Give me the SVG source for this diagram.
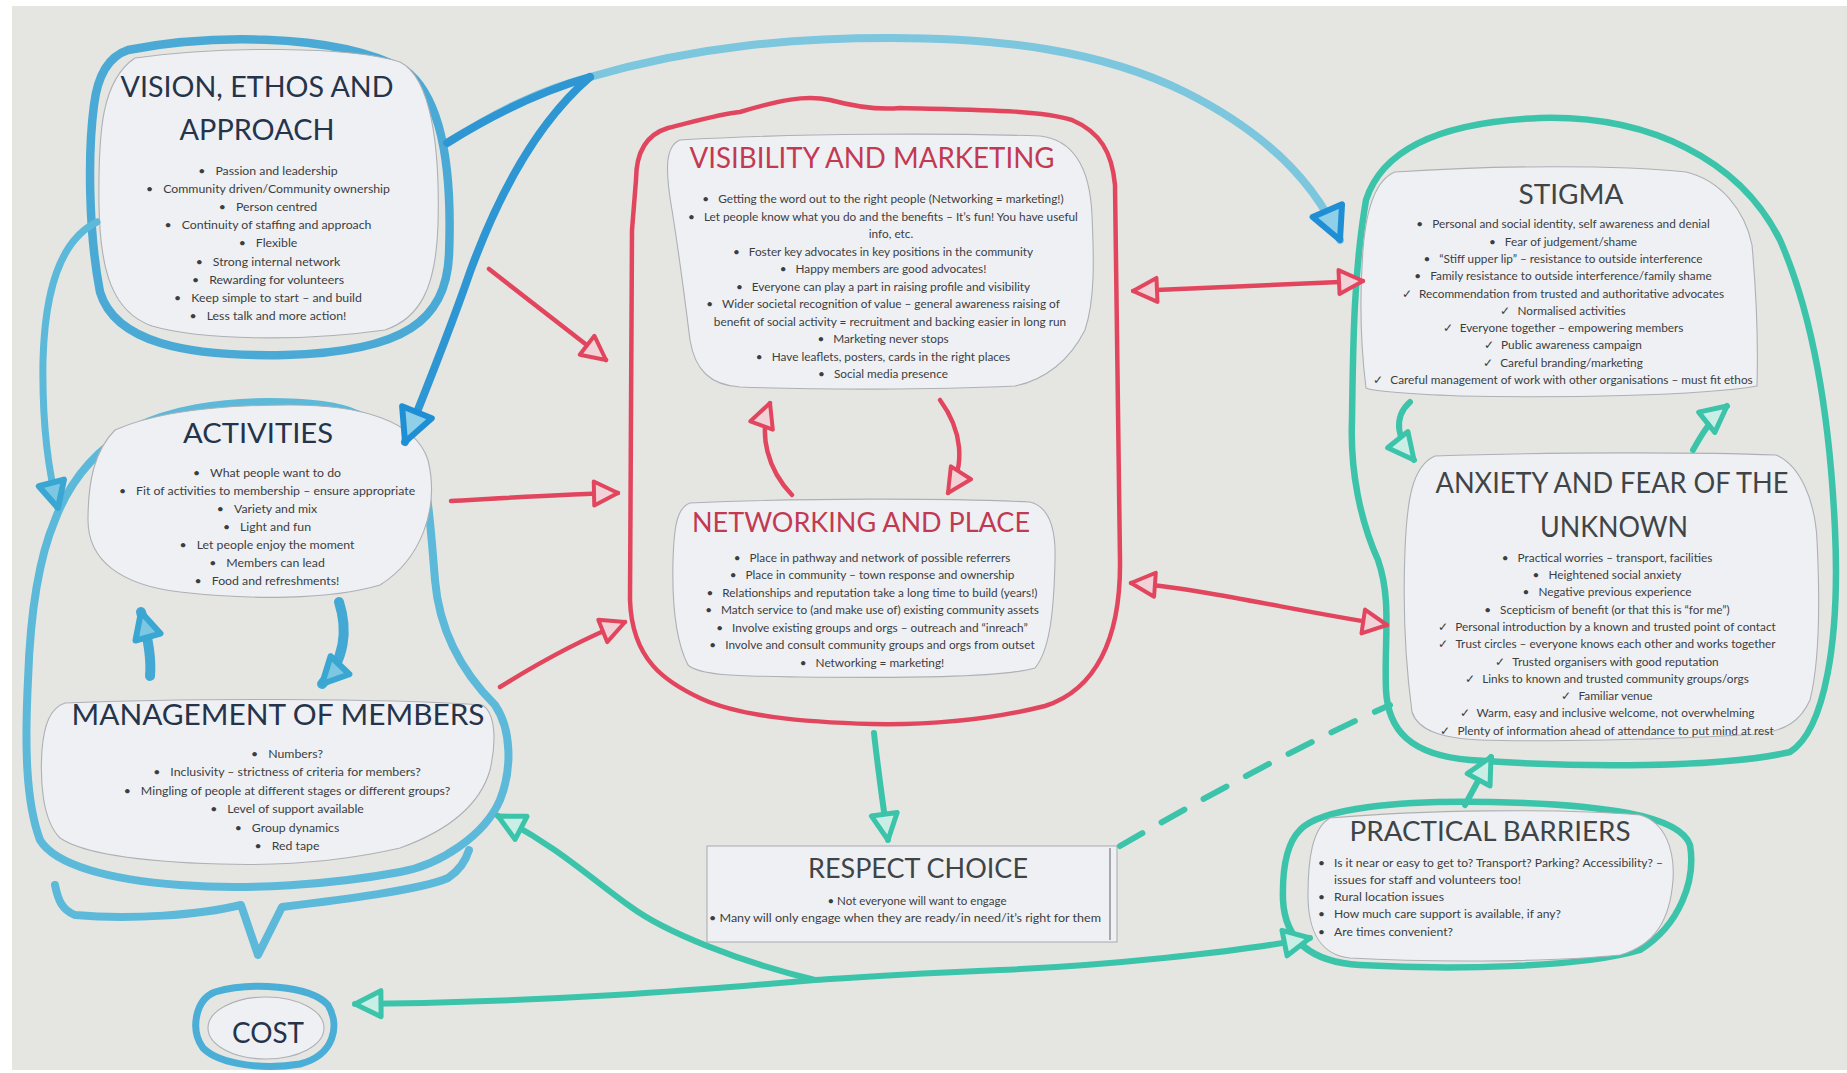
<svg xmlns="http://www.w3.org/2000/svg" width="1847" height="1073" viewBox="0 0 1847 1073">
<style>
.paper{fill:#eff0f4;stroke:#adb0b5;stroke-width:1.1}
.t{font-family:Lato,"Open Sans","Liberation Sans",sans-serif;font-size:12.3px;fill:#3b3e41;text-anchor:middle}
.tl{font-family:Lato,"Open Sans","Liberation Sans",sans-serif;font-size:12px;fill:#3b3e41}
.ttl{font-family:Lato,"Open Sans","Liberation Sans",sans-serif;font-size:29px;text-anchor:middle}
.navy{fill:#25344a}
.crim{fill:#c23a52}
.gry{fill:#3f4547}
.ob{fill:none;stroke:#4aaad5;stroke-width:8.5;stroke-linejoin:round;stroke-linecap:round}
.ol{fill:none;stroke:#5cb9d9;stroke-width:8;stroke-linejoin:round;stroke-linecap:round}
.or{fill:none;stroke:#e2465f;stroke-width:4.5;stroke-linejoin:round;stroke-linecap:round}
.ot{fill:none;stroke:#3cc4ab;stroke-width:6.5;stroke-linejoin:round;stroke-linecap:round}
.cb{fill:none;stroke:#2e97d3;stroke-width:8;stroke-linecap:round}
.cbl{fill:none;stroke:#7cc6de;stroke-width:8;stroke-linecap:round}
.cbs{fill:none;stroke:#43a9d4;stroke-width:10;stroke-linecap:round}
.cr{fill:none;stroke:#e2465f;stroke-width:4.5;stroke-linecap:round}
.ct{fill:none;stroke:#3cc4ab;stroke-width:6;stroke-linecap:round}
</style>
<defs>
<marker id="mb" viewBox="0 0 44 44" refX="38" refY="22" markerWidth="44" markerHeight="44" markerUnits="userSpaceOnUse" orient="auto-start-reverse"><path d="M6,6 L38,22 L6,38 Z" fill="#8fd0e8" stroke="#1f8fd5" stroke-width="6" stroke-linejoin="round"/></marker>
<marker id="mbs" viewBox="0 0 36 36" refX="31" refY="18" markerWidth="36" markerHeight="36" markerUnits="userSpaceOnUse" orient="auto-start-reverse"><path d="M5,5 L31,18 L5,31 Z" fill="#7cc8e2" stroke="#3aa6d2" stroke-width="6" stroke-linejoin="round"/></marker>
<marker id="mr" viewBox="0 0 32 32" refX="28" refY="16" markerWidth="32" markerHeight="32" markerUnits="userSpaceOnUse" orient="auto-start-reverse"><path d="M4,4 L28,16 L4,28 Z" fill="#f1d3d7" stroke="#e2465f" stroke-width="4" stroke-linejoin="round"/></marker>
<marker id="mt" viewBox="0 0 36 36" refX="31" refY="18" markerWidth="36" markerHeight="36" markerUnits="userSpaceOnUse" orient="auto-start-reverse"><path d="M5,5 L31,18 L5,31 Z" fill="#c9eee6" stroke="#3cc4ab" stroke-width="5" stroke-linejoin="round"/></marker>
</defs>

<rect x="0" y="0" width="1847" height="1073" fill="#ffffff"/>
<rect x="12" y="6" width="1835" height="1064" fill="#e5e6e1"/>

<g id="clusters">
<path class="ol" d="M134,428 C170,410 220,402 268,402 C310,402 340,406 357,414 C385,425 405,440 415,455 C428,480 430,520 435,580 C440,640 470,680 495,705 C512,730 512,770 500,800 C485,835 440,865 400,872 C330,885 250,890 180,885 C110,880 55,865 40,840 C25,800 25,740 28,680 C30,620 38,560 55,520 C70,480 95,450 134,428 Z"/>
<path class="or" d="M636,180 C636,150 648,134 668,128 C700,120 720,114 740,112 C780,100 805,95 830,100 C860,108 880,110 900,108 C980,110 1040,110 1072,120 C1100,132 1112,152 1115,185 L1120,560 C1121,640 1095,690 1045,706 C985,721 925,725 872,724 C800,722 740,716 702,699 C665,682 632,660 630,600 L632,230 Z"/>
<path class="ot" d="M1366,200 C1382,150 1440,122 1540,118 C1650,115 1740,160 1780,240 C1815,320 1830,420 1835,530 C1840,640 1825,730 1790,752 C1720,768 1580,768 1470,760 C1410,755 1388,730 1386,690 C1384,640 1392,600 1378,560 C1360,520 1350,470 1352,420 C1353,340 1354,270 1366,200 Z"/>
</g>

<g id="vision">
<path class="ob" d="M128,50 C200,36 330,30 405,70 C445,100 452,180 449,255 C446,320 405,352 285,355 C185,357 115,342 100,292 C88,230 88,150 94,105 C98,72 110,56 128,50 Z"/>
<path class="paper" d="M135,58 C220,46 350,46 400,62 C432,78 440,150 438,225 C436,288 420,318 385,330 C300,342 200,340 152,326 C112,312 100,270 99,205 C98,130 102,80 135,58 Z"/>
<text class="ttl navy" x="257" y="97" textLength="273" lengthAdjust="spacingAndGlyphs">VISION, ETHOS AND</text>
<text class="ttl navy" x="257" y="140" textLength="155" lengthAdjust="spacingAndGlyphs">APPROACH</text>
<text class="t" x="268" y="175">•<tspan dx="10">Passion and leadership</tspan></text>
<text class="t" x="268" y="193.1">•<tspan dx="10">Community driven/Community ownership</tspan></text>
<text class="t" x="268" y="211.2">•<tspan dx="10">Person centred</tspan></text>
<text class="t" x="268" y="229.3">•<tspan dx="10">Continuity of staffing and approach</tspan></text>
<text class="t" x="268" y="247.4">•<tspan dx="10">Flexible</tspan></text>
<text class="t" x="268" y="265.5">•<tspan dx="10">Strong internal network</tspan></text>
<text class="t" x="268" y="283.6">•<tspan dx="10">Rewarding for volunteers</tspan></text>
<text class="t" x="268" y="301.7">•<tspan dx="10">Keep simple to start – and build</tspan></text>
<text class="t" x="268" y="319.8">•<tspan dx="10">Less talk and more action!</tspan></text>
</g>

<g id="activities">
<path class="paper" d="M115,430 C160,410 230,405 290,405 C360,405 415,420 428,460 C440,510 420,560 380,585 C330,600 250,600 180,592 C120,585 88,560 88,520 C88,480 95,450 115,430 Z"/>
<text class="ttl navy" x="258" y="443" textLength="150" lengthAdjust="spacingAndGlyphs" style="font-size:26px">ACTIVITIES</text>
<text class="t" x="267" y="476.7">•<tspan dx="10">What people want to do</tspan></text>
<text class="t" x="267" y="494.7">•<tspan dx="10">Fit of activities to membership – ensure appropriate</tspan></text>
<text class="t" x="267" y="512.7">•<tspan dx="10">Variety and mix</tspan></text>
<text class="t" x="267" y="530.7">•<tspan dx="10">Light and fun</tspan></text>
<text class="t" x="267" y="548.7">•<tspan dx="10">Let people enjoy the moment</tspan></text>
<text class="t" x="267" y="566.7">•<tspan dx="10">Members can lead</tspan></text>
<text class="t" x="267" y="584.7">•<tspan dx="10">Food and refreshments!</tspan></text>
</g>

<g id="management">
<path class="paper" d="M65,703 C180,698 380,698 482,705 C495,712 497,740 490,770 C480,805 450,830 400,848 C340,862 280,866 220,864 C150,862 85,855 60,838 C42,820 40,780 42,750 C44,725 50,708 65,703 Z"/>
<text class="ttl navy" x="278" y="725" textLength="413" lengthAdjust="spacingAndGlyphs">MANAGEMENT OF MEMBERS</text>
<text class="t" x="287" y="758">•<tspan dx="10">Numbers?</tspan></text>
<text class="t" x="287" y="776.4">•<tspan dx="10">Inclusivity – strictness of criteria for members?</tspan></text>
<text class="t" x="287" y="794.8">•<tspan dx="10">Mingling of people at different stages or different groups?</tspan></text>
<text class="t" x="287" y="813.2">•<tspan dx="10">Level of support available</tspan></text>
<text class="t" x="287" y="831.6">•<tspan dx="10">Group dynamics</tspan></text>
<text class="t" x="287" y="850">•<tspan dx="10">Red tape</tspan></text>
</g>

<g id="cost">
<path class="ol" style="stroke:#4aaed6;stroke-width:7" d="M215,992 C250,982 310,985 328,1005 C340,1025 335,1055 300,1064 C265,1070 220,1065 203,1048 C190,1030 195,1000 215,992 Z"/>
<ellipse class="paper" cx="266" cy="1028" rx="58" ry="31"/>
<text class="ttl navy" x="268" y="1043" textLength="72" lengthAdjust="spacingAndGlyphs" style="font-size:28px">COST</text>
</g>

<g id="visibility">
<path class="paper" d="M680,140 C800,133 950,133 1040,136 C1075,140 1090,170 1092,215 C1094,260 1095,300 1085,330 C1070,360 1045,380 1015,386 C930,390 820,390 740,387 C710,385 695,370 690,340 C685,300 680,260 672,210 C665,170 665,146 680,140 Z"/>
<text class="ttl crim" x="872" y="168" textLength="365" lengthAdjust="spacingAndGlyphs">VISIBILITY AND MARKETING</text>
<text class="t" x="883" y="203.3" style="font-size:11.8px">•<tspan dx="9">Getting the word out to the right people (Networking = marketing!)</tspan></text>
<text class="t" x="883" y="220.8" style="font-size:11.8px">•<tspan dx="9">Let people know what you do and the benefits – It’s fun! You have useful</tspan></text>
<text class="t" x="891" y="238.3" style="font-size:11.8px">info, etc.</text>
<text class="t" x="883" y="255.8" style="font-size:11.8px">•<tspan dx="9">Foster key advocates in key positions in the community</tspan></text>
<text class="t" x="883" y="273.3" style="font-size:11.8px">•<tspan dx="9">Happy members are good advocates!</tspan></text>
<text class="t" x="883" y="290.8" style="font-size:11.8px">•<tspan dx="9">Everyone can play a part in raising profile and visibility</tspan></text>
<text class="t" x="883" y="308.3" style="font-size:11.8px">•<tspan dx="9">Wider societal recognition of value – general awareness raising of</tspan></text>
<text class="t" x="890" y="325.8" style="font-size:11.8px">benefit of social activity = recruitment and backing easier in long run</text>
<text class="t" x="883" y="343.3" style="font-size:11.8px">•<tspan dx="9">Marketing never stops</tspan></text>
<text class="t" x="883" y="360.8" style="font-size:11.8px">•<tspan dx="9">Have leaflets, posters, cards in the right places</tspan></text>
<text class="t" x="883" y="378.3" style="font-size:11.8px">•<tspan dx="9">Social media presence</tspan></text>
</g>

<g id="networking">
<path class="paper" d="M690,503 C800,498 950,498 1030,502 C1050,507 1056,530 1055,560 C1054,610 1050,650 1035,668 C1000,678 900,678 800,677 C740,676 700,676 688,665 C675,640 672,600 673,560 C674,530 676,508 690,503 Z"/>
<text class="ttl crim" x="861" y="532" textLength="338" lengthAdjust="spacingAndGlyphs" style="font-size:27px">NETWORKING AND PLACE</text>
<text class="t" x="872" y="561.7" style="font-size:11.8px">•<tspan dx="9">Place in pathway and network of possible referrers</tspan></text>
<text class="t" x="872" y="579.2" style="font-size:11.8px">•<tspan dx="9">Place in community – town response and ownership</tspan></text>
<text class="t" x="872" y="596.7" style="font-size:11.8px">•<tspan dx="9">Relationships and reputation take a long time to build (years!)</tspan></text>
<text class="t" x="872" y="614.2" style="font-size:11.8px">•<tspan dx="9">Match service to (and make use of) existing community assets</tspan></text>
<text class="t" x="872" y="631.7" style="font-size:11.8px">•<tspan dx="9">Involve existing groups and orgs – outreach and “inreach”</tspan></text>
<text class="t" x="872" y="649.2" style="font-size:11.8px">•<tspan dx="9">Involve and consult community groups and orgs from outset</tspan></text>
<text class="t" x="872" y="666.7" style="font-size:11.8px">•<tspan dx="9">Networking = marketing!</tspan></text>
</g>

<g id="stigma">
<path class="paper" d="M1395,172 C1500,165 1620,165 1686,172 C1720,180 1745,210 1752,245 C1757,300 1758,350 1757,386 C1700,396 1560,398 1460,396 C1410,394 1375,392 1366,388 C1360,340 1360,290 1363,250 C1366,210 1375,180 1395,172 Z"/>
<text class="ttl gry" x="1571" y="204" textLength="105" lengthAdjust="spacingAndGlyphs" style="font-size:27px">STIGMA</text>
<text class="t" x="1563" y="228.3" style="font-size:11.8px">•<tspan dx="9">Personal and social identity, self awareness and denial</tspan></text>
<text class="t" x="1563" y="245.6" style="font-size:11.8px">•<tspan dx="9">Fear of judgement/shame</tspan></text>
<text class="t" x="1563" y="262.9" style="font-size:11.8px">•<tspan dx="9">“Stiff upper lip” – resistance to outside interference</tspan></text>
<text class="t" x="1563" y="280.2" style="font-size:11.8px">•<tspan dx="9">Family resistance to outside interference/family shame</tspan></text>
<text class="t" x="1563" y="297.5" style="font-size:11.8px">✓<tspan dx="7">Recommendation from trusted and authoritative advocates</tspan></text>
<text class="t" x="1563" y="314.8" style="font-size:11.8px">✓<tspan dx="7">Normalised activities</tspan></text>
<text class="t" x="1563" y="332.1" style="font-size:11.8px">✓<tspan dx="7">Everyone together – empowering members</tspan></text>
<text class="t" x="1563" y="349.4" style="font-size:11.8px">✓<tspan dx="7">Public awareness campaign</tspan></text>
<text class="t" x="1563" y="366.7" style="font-size:11.8px">✓<tspan dx="7">Careful branding/marketing</tspan></text>
<text class="t" x="1563" y="384" style="font-size:11.8px">✓<tspan dx="7">Careful management of work with other organisations – must fit ethos</tspan></text>
</g>

<g id="anxiety">
<path class="paper" d="M1435,456 C1550,452 1700,452 1776,455 C1800,465 1815,500 1817,540 C1820,600 1820,660 1810,700 C1800,722 1785,730 1760,734 C1660,740 1540,742 1480,740 C1440,738 1418,730 1412,712 C1405,660 1403,600 1405,550 C1407,500 1412,466 1435,456 Z"/>
<text class="ttl gry" x="1612" y="493" textLength="353" lengthAdjust="spacingAndGlyphs" style="font-size:28px">ANXIETY AND FEAR OF THE</text>
<text class="ttl gry" x="1614" y="537" textLength="148" lengthAdjust="spacingAndGlyphs" style="font-size:28px">UNKNOWN</text>
<text class="t" x="1607" y="561.7" style="font-size:11.8px">•<tspan dx="9">Practical worries – transport, facilities</tspan></text>
<text class="t" x="1607" y="579" style="font-size:11.8px">•<tspan dx="9">Heightened social anxiety</tspan></text>
<text class="t" x="1607" y="596.3" style="font-size:11.8px">•<tspan dx="9">Negative previous experience</tspan></text>
<text class="t" x="1607" y="613.6" style="font-size:11.8px">•<tspan dx="9">Scepticism of benefit (or that this is “for me”)</tspan></text>
<text class="t" x="1607" y="630.9" style="font-size:11.8px">✓<tspan dx="7">Personal introduction by a known and trusted point of contact</tspan></text>
<text class="t" x="1607" y="648.2" style="font-size:11.8px">✓<tspan dx="7">Trust circles – everyone knows each other and works together</tspan></text>
<text class="t" x="1607" y="665.5" style="font-size:11.8px">✓<tspan dx="7">Trusted organisers with good reputation</tspan></text>
<text class="t" x="1607" y="682.8" style="font-size:11.8px">✓<tspan dx="7">Links to known and trusted community groups/orgs</tspan></text>
<text class="t" x="1607" y="700.1" style="font-size:11.8px">✓<tspan dx="7">Familiar venue</tspan></text>
<text class="t" x="1607" y="717.4" style="font-size:11.8px">✓<tspan dx="7">Warm, easy and inclusive welcome, not overwhelming</tspan></text>
<text class="t" x="1607" y="734.7" style="font-size:11.8px">✓<tspan dx="7">Plenty of information ahead of attendance to put mind at rest</tspan></text>
</g>

<g id="respect-choice">
<rect class="paper" x="707" y="846" width="410" height="96"/>
<line x1="1110" y1="848" x2="1110" y2="940" stroke="#8e9196" stroke-width="1.5"/>
<text class="ttl gry" x="918" y="878" textLength="220" lengthAdjust="spacingAndGlyphs" style="font-size:26px">RESPECT CHOICE</text>
<text class="t" x="917" y="905" textLength="179" lengthAdjust="spacingAndGlyphs" style="font-size:12px">•  Not everyone will want to engage</text>
<text class="t" x="905" y="922" textLength="392" lengthAdjust="spacingAndGlyphs" style="font-size:12px">•  Many will only engage when they are ready/in need/it’s right for them</text>
</g>

<g id="practical-barriers">
<path class="ot" d="M1300,830 C1320,808 1400,800 1491,802 C1600,804 1680,815 1690,845 C1696,880 1680,925 1640,950 C1580,968 1450,970 1360,965 C1310,962 1285,940 1283,900 C1282,865 1288,842 1300,830 Z"/>
<path class="paper" d="M1330,818 C1420,810 1560,808 1640,815 C1665,822 1675,850 1673,880 C1670,920 1655,945 1620,955 C1540,963 1420,962 1350,958 C1320,955 1308,930 1308,895 C1308,860 1312,828 1330,818 Z"/>
<text class="ttl gry" x="1490" y="841" textLength="281" lengthAdjust="spacingAndGlyphs" style="font-size:26px">PRACTICAL BARRIERS</text>
<text class="tl" x="1318" y="867">•</text>
<text class="tl" x="1334" y="867" textLength="329" lengthAdjust="spacingAndGlyphs">Is it near or easy to get to? Transport? Parking? Accessibility? –</text>
<text class="tl" x="1334" y="884" textLength="187" lengthAdjust="spacingAndGlyphs">issues for staff and volunteers too!</text>
<text class="tl" x="1318" y="901">•</text>
<text class="tl" x="1334" y="901" textLength="110" lengthAdjust="spacingAndGlyphs">Rural location issues</text>
<text class="tl" x="1318" y="918">•</text>
<text class="tl" x="1334" y="918" textLength="227" lengthAdjust="spacingAndGlyphs">How much care support is available, if any?</text>
<text class="tl" x="1318" y="936">•</text>
<text class="tl" x="1334" y="936" textLength="119" lengthAdjust="spacingAndGlyphs">Are times convenient?</text>
</g>

<g id="connectors">
<path class="cbl" d="M447,143 C500,110 540,90 590,77 C700,45 800,38 890,38 C1000,38 1100,50 1185,92 C1265,132 1315,182 1340,240" marker-end="url(#mb)"/>
<path class="cb" d="M447,143 C500,110 545,90 590,77"/>
<path class="cb" d="M590,77 C540,120 500,190 470,272 C450,330 430,380 405,442" marker-end="url(#mb)"/>
<path class="ol" style="stroke-width:7" d="M97,222 C60,240 45,290 43,360 C42,420 48,470 58,508" marker-end="url(#mbs)"/>
<path class="cbs" d="M339,602 C348,630 345,660 322,684" marker-end="url(#mbs)"/>
<path class="cbs" d="M150,676 C152,655 146,630 141,612" marker-end="url(#mbs)"/>
<path class="ol" d="M55,885 C58,900 62,910 75,915 C130,920 200,915 241,905 L258,955 L282,907 C340,900 420,890 448,878 C460,870 466,860 469,850"/>
<path class="cr" d="M489,269 L606,360" marker-end="url(#mr)"/>
<path class="cr" d="M451,501 C520,497 570,494 618,493" marker-end="url(#mr)"/>
<path class="cr" d="M500,687 C540,662 580,640 625,622" marker-end="url(#mr)"/>
<path class="cr" d="M1133,291 L1363,281" marker-start="url(#mr)" marker-end="url(#mr)"/>
<path class="cr" d="M1131,583 C1200,588 1300,612 1387,625" marker-start="url(#mr)" marker-end="url(#mr)"/>
<path class="cr" d="M792,495 C768,470 758,435 770,403" marker-end="url(#mr)"/>
<path class="cr" d="M940,400 C962,430 966,465 948,493" marker-end="url(#mr)"/>
<path class="ct" d="M874,733 C878,770 883,805 888,840" marker-end="url(#mt)"/>
<path class="ct" stroke-dasharray="26 22" d="M1120,846 C1200,800 1300,745 1390,705"/>
<path class="ct" d="M1410,402 C1392,418 1398,440 1414,460" marker-end="url(#mt)"/>
<path class="ct" d="M1693,450 C1703,432 1712,418 1727,406" marker-end="url(#mt)"/>
<path class="ct" d="M1465,805 L1491,757" marker-end="url(#mt)"/>
<path class="ct" d="M1310,938 C1240,952 1100,966 1000,970 C900,974 850,978 815,980 C700,990 550,1002 355,1004" marker-start="url(#mt)" marker-end="url(#mt)"/>
<path class="ct" d="M815,980 C740,962 665,932 631,907 C590,878 560,848 498,816" marker-end="url(#mt)"/>
</g>
</svg>
